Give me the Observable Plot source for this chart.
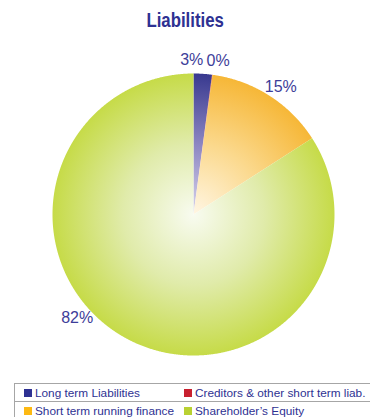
<!DOCTYPE html>
<html><head><meta charset="utf-8">
<script src="https://cdn.jsdelivr.net/npm/d3@7"></script>
<script src="https://cdn.jsdelivr.net/npm/@observablehq/plot@0.6"></script>
<style>
body{margin:0;background:#fff;width:370px;height:417px;overflow:hidden;position:relative;font-family:"Liberation Sans",Arial,sans-serif}
#title{position:absolute;left:0;top:2px;width:370px;text-align:center;line-height:36px;height:36px}
#title span{display:inline-block;font-family:"Liberation Sans",sans-serif;font-weight:bold;font-size:20px;color:#2e3192;transform:scaleX(0.84);transform-origin:center}
#chart{position:absolute;left:0;top:36px}
#legend{position:absolute;left:14px;top:383px;width:356px;height:34px;border-top:1px solid #a6a6a6;border-left:1px solid #a6a6a6}
#legend .div{position:absolute;left:0;top:17px;width:356px;height:0;border-top:1px solid #a6a6a6}
#legend .item{position:absolute;font-size:11.8px;color:#2e3192;line-height:14px;white-space:nowrap}
#legend .sw{display:inline-block;width:8px;height:8px;margin-right:3px;vertical-align:0px}
</style></head>
<body>
<div id="title"><span>Liabilities</span></div>
<div id="chart"></div>
<div id="legend"><div class="div"></div></div>
<script>
const categories = ["Long term Liabilities", "Creditors & other short term liab.", "Short term running finance", "Shareholder\u2019s Equity"];
const shares = [2.1, 0.05, 13.75, 84.1];
const labels = ["3%", "0%", "15%", "82%"];
const swatches = ["#2e3192", "#c8202f", "#fdb913", "#b9d132"];

const W = 370, H = 346, cx = 193, cy = 178, R = 141;
const arcs = d3.pie().sort(null).value(d => d)(shares);
const rows = [];
arcs.forEach((a, i) => {
  rows.push({i, x: 0, y: 0});
  const n = Math.max(2, Math.ceil((a.endAngle - a.startAngle) / 0.005));
  for (let k = 0; k <= n; k++) {
    const t = a.startAngle + (a.endAngle - a.startAngle) * k / n;
    rows.push({i, x: Math.sin(t), y: Math.cos(t)});
  }
  rows.push({i, x: 0, y: 0});
});
const labelRows = arcs.map((a, i) => {
  const m = (a.startAngle + a.endAngle) / 2, r = 1.1;
  return {i, text: labels[i], x: r * Math.sin(m), y: r * Math.cos(m)};
});
const nudges = [[-12, 0], [4, 0], [4, 3], [-42, -33]];
const textMarks = labelRows.map((d, i) => Plot.text([d], {
  x: "x", y: "y", text: "text", dx: nudges[i][0], dy: nudges[i][1],
  fill: "#3d3d99", fontSize: 16, letterSpacing: "-0.6px",
  fontFamily: "Liberation Sans, sans-serif"
}));

const chart = Plot.plot({
  width: W, height: H, margin: 0,
  x: {domain: [-cx / R, (W - cx) / R], range: [0, W], axis: null},
  y: {domain: [-(H - cy) / R, cy / R], range: [H, 0], axis: null},
  color: {type: "identity"},
  marks: [
    Plot.line(rows, {x: "x", y: "y", z: "i", fill: d => `url(#g${d.i})`, stroke: "none"}),
    ...textMarks
  ]
});
const sx = chart.scale("x"), sy = chart.scale("y");
const gx = sx.apply(0), gy = sy.apply(0), gr = sx.apply(1) - sx.apply(0);
const stops = [
  [["0", "#d8d4ec"], ["0.5", "#8c86c2"], ["1", "#38398f"]],
  [["0", "#f4d0d3"], ["1", "#c8202f"]],
  [["0", "#fff6e4"], ["0.5", "#fbd98e"], ["1", "#f6b737"]],
  [["0", "#f8fbf0"], ["0.5", "#e0ebaa"], ["1", "#c6db48"]]
];
const defs = d3.select(chart).insert("defs", ":first-child");
stops.forEach((s, i) => {
  const g = defs.append("radialGradient").attr("id", "g" + i)
    .attr("gradientUnits", "userSpaceOnUse").attr("cx", gx).attr("cy", gy).attr("r", gr);
  s.forEach(([o, c]) => g.append("stop").attr("offset", o).attr("stop-color", c));
});
document.getElementById("chart").appendChild(chart);

const leg = document.getElementById("legend");
const pos = [[9, 2], [169, 2], [9, 20], [169, 20]];
categories.forEach((c, i) => {
  const el = document.createElement("div");
  el.className = "item";
  el.style.left = pos[i][0] + "px";
  el.style.top = pos[i][1] + "px";
  el.innerHTML = `<span class="sw" style="background:${swatches[i]}"></span>`;
  el.appendChild(document.createTextNode(c));
  leg.appendChild(el);
});
</script>
</body></html>
